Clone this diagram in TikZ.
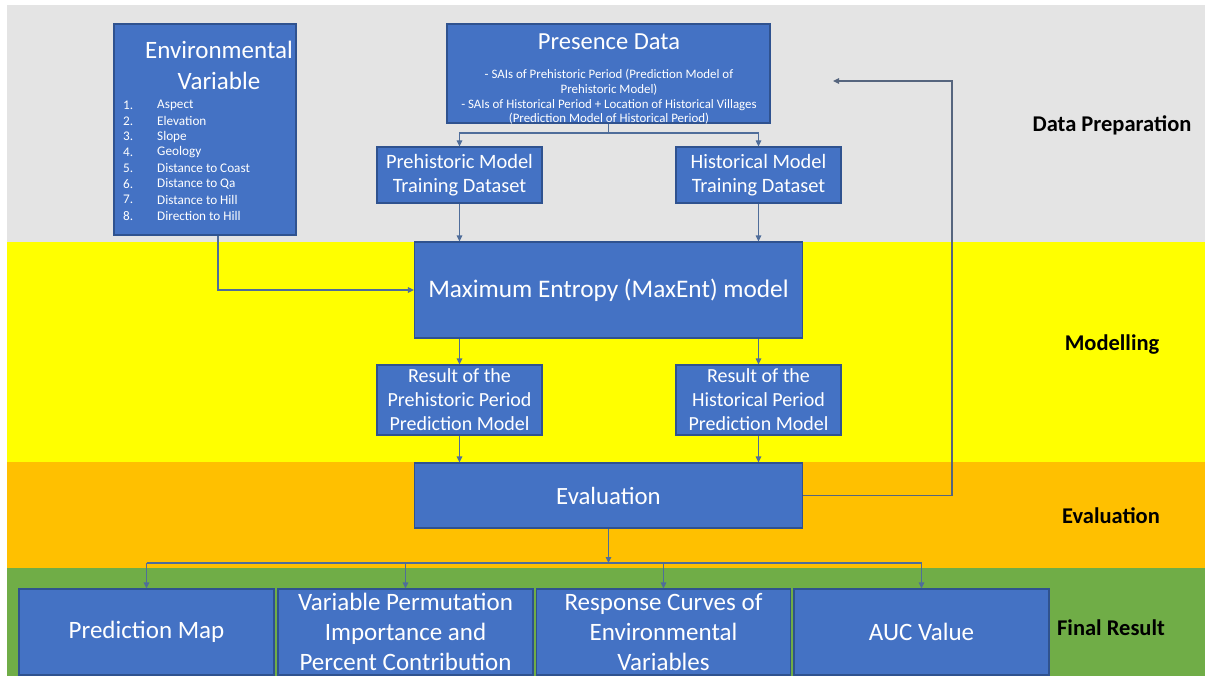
\documentclass[tikz,border=0pt]{standalone}
\usepackage{fontspec}
\setmainfont{Carlito}
\usetikzlibrary{arrows.meta}
\definecolor{bandgray}{HTML}{E4E4E4}
\definecolor{bandyellow}{HTML}{FFFF00}
\definecolor{bandorange}{HTML}{FFC000}
\definecolor{bandgreen}{HTML}{70AD47}
\definecolor{boxblue}{HTML}{4472C4}
\definecolor{boxline}{HTML}{2F528F}
\definecolor{lineblue}{HTML}{4F6D9A}
\definecolor{linegray}{HTML}{56657E}
\tikzset{
  box/.style={draw=boxline, fill=boxblue, line width=1.2pt, text=white, align=center, inner sep=0pt},
  wtext/.style={text=white, align=center, inner sep=0pt},
  conn/.style={draw=lineblue, line width=1.2pt},
  arr/.style={conn, -{Triangle[length=6pt,width=5.5pt]}},
  fbarr/.style={draw=linegray, line width=1.2pt, -{Triangle[length=6pt,width=5.5pt]}},
  lab/.style={font=\bfseries\fontsize{22.5}{26}\selectfont, text=black, inner sep=0pt},
}
\begin{document}
\begin{tikzpicture}[x=1pt,y=-1pt]
\useasboundingbox (0,0) rectangle (1205,682);
\fill[white] (0,0) rectangle (1205,682);
% bands
\fill[bandgray] (7,5) rectangle (1205,242);
\fill[bandyellow] (7,242) rectangle (1205,462);
\fill[bandorange] (7,462) rectangle (1205,568);
\fill[bandgreen] (7,568) rectangle (1205,676);
% band labels
\node[lab] (lprep) at (1112,125) {Data Preparation};
\node[lab] (lmod) at (1112,345) {Modelling};
\node[lab] (leval) at (1111,516) {Evaluation};
\node[lab] (lfin) at (1111,628) {Final Result};
% environmental variable
\node[box, minimum width=182pt, minimum height=211pt] (env) at (205,129.5) {};
\node[wtext, font=\fontsize{25}{31}\selectfont] (envt) at (219,65.5) {Environmental\\Variable};
\foreach \i/\t in {1/Aspect,2/Elevation,3/Slope,4/Geology,5/Distance to Coast,6/Distance to Qa,7/Distance to Hill,8/Direction to Hill}{
  \node[wtext, anchor=west, font=\fontsize{13.2}{15}\selectfont] (envn\i) at (123,{105+(\i-1)*15.8}) {\i.};
  \node[wtext, anchor=west, font=\fontsize{13.2}{15}\selectfont] (envl\i) at (157,{105+(\i-1)*15.8}) {\t};
}
% presence data
\node[box, minimum width=323pt, minimum height=99pt] (pd) at (608.5,73.5) {};
\node[wtext, font=\fontsize{24.5}{28}\selectfont] (pdt) at (609,42) {Presence Data};
\node[wtext, font=\fontsize{12.9}{14.6}\selectfont] (pds) at (609,97) {- SAIs of Prehistoric Period (Prediction Model of\\Prehistoric Model)\\- SAIs of Historical Period + Location of Historical Villages\\(Prediction Model of Historical Period)};
% training datasets
\node[box, minimum width=165pt, minimum height=56pt, font=\fontsize{20.4}{23.5}\selectfont] (pt) at (459.5,175) {Prehistoric Model\\Training Dataset};
\node[box, minimum width=165pt, minimum height=56pt, font=\fontsize{20.4}{23.5}\selectfont] (ht) at (758.5,175) {Historical Model\\Training Dataset};
% maxent
\node[box, minimum width=388pt, minimum height=96pt, font=\fontsize{25.3}{28}\selectfont] (me) at (608.5,290) {Maximum Entropy (MaxEnt) model};
% results
\node[box, minimum width=165pt, minimum height=70pt, font=\fontsize{20}{24}\selectfont] (pr) at (459.5,400) {Result of the\\Prehistoric Period\\Prediction Model};
\node[box, minimum width=165pt, minimum height=70pt, font=\fontsize{20}{24}\selectfont] (hr) at (758.5,400) {Result of the\\Historical Period\\Prediction Model};
% evaluation
\node[box, minimum width=388pt, minimum height=65pt, font=\fontsize{24.8}{28}\selectfont] (ev) at (608.5,495.5) {Evaluation};
% final boxes
\node[box, minimum width=255pt, minimum height=86pt, font=\fontsize{25}{30}\selectfont] (b1) at (146.5,632) {Prediction Map};
\node[box, minimum width=255pt, minimum height=86pt, font=\fontsize{25}{30}\selectfont] (b2) at (405.5,632) {Variable Permutation\\Importance and\\Percent Contribution};
\node[box, minimum width=254pt, minimum height=86pt, font=\fontsize{25}{30}\selectfont] (b3) at (663.5,632) {Response Curves of\\Environmental\\Variables};
\node[box, minimum width=255pt, minimum height=86pt, font=\fontsize{25}{30}\selectfont] (b4) at (921.5,632) {AUC Value};
% connectors
\coordinate (split) at (608.5,133);
\draw[conn] (pd.south) -- (split);
\draw[arr] (split) -| (pt.north);
\draw[arr] (split) -| (ht.north);
\draw[arr] (pt.south) -- (pt.south |- me.north);
\draw[arr] (ht.south) -- (ht.south |- me.north);
\draw[arr] ([xshift=13pt]env.south) |- (me.west);
\draw[arr] (pr.north |- me.south) -- (pr.north);
\draw[arr] (hr.north |- me.south) -- (hr.north);
\draw[arr] (pr.south) -- (pr.south |- ev.north);
\draw[arr] (hr.south) -- (hr.south |- ev.north);
% feedback
\coordinate (fbc) at (952,81);
\coordinate (fb) at (833,81);
\draw[fbarr] (ev.east) -| (fbc) -- (fb);
% to final results
\coordinate (bus) at (608.5,563);
\draw[arr] (ev.south) -- (bus);
\draw[conn] (b1.north |- bus) -- (b4.north |- bus);
\foreach \b in {b1,b2,b3,b4}{
  \draw[arr] (\b.north |- bus) -- (\b.north);
}
\end{tikzpicture}
\end{document}
